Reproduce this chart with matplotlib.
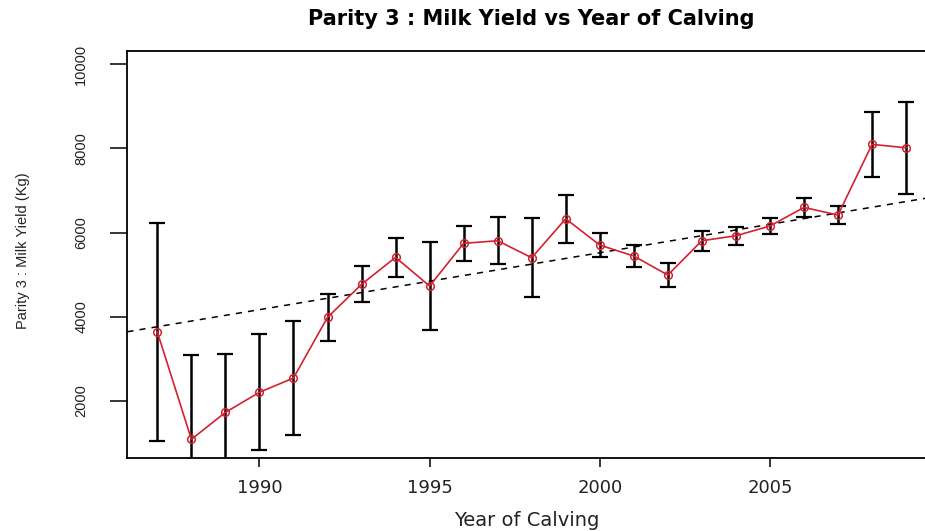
import matplotlib
matplotlib.use("Agg")
import matplotlib.pyplot as plt
import numpy as np

years = [1987, 1988, 1989, 1990, 1991, 1992, 1993, 1994, 1995, 1996, 1997, 1998,
         1999, 2000, 2001, 2002, 2003, 2004, 2005, 2006, 2007, 2008, 2009]
mean_yield = [3640, 1090, 1730, 2207, 2546, 3988, 4772, 5413, 4732, 5746, 5808, 5404,
              6330, 5705, 5444, 4993, 5808, 5926, 6157, 6600, 6418, 8097, 8017]
err_yield = [2580, 2000, 1384, 1377, 1361, 556, 430, 455, 1050, 410, 560, 940,
             565, 285, 257, 278, 238, 217, 200, 217, 220, 772, 1087]
trend_year0 = 1986.12
trend_value0 = 3646
trend_slope = 135.2
xticks = [1990, 1995, 2000, 2005]
yticks = [2000, 4000, 6000, 8000, 10000]

W, H = 925, 531
fig = plt.figure(figsize=(W / 100, H / 100), dpi=100)
L, R, T, B = 127.4, 936.0, 50.7, 458.3
ax = fig.add_axes([L / W, (H - B) / H, (R - L) / W, (B - T) / H])

ax.errorbar(years, mean_yield, yerr=err_yield, fmt='none', ecolor='black',
            elinewidth=1.8, capsize=6.1, capthick=1.6, zorder=2)
ax.plot(years, mean_yield, color='#d42030', lw=1.2, marker='o', ms=5.5,
        mfc='none', mec='#d42030', mew=1.1, zorder=3)
ax.axline((trend_year0, trend_value0), slope=trend_slope, color='black',
          lw=1.1, linestyle=(0, (4, 4)), zorder=2)

ax.set_xlim(1986.12, 2009.88)
ax.set_ylim(639, 10323)
ax.set_xticks(xticks)
ax.set_yticks(yticks)
ax.set_xticklabels([str(v) for v in xticks], fontsize=13, family='DejaVu Sans',
                   color='#222222')
ax.set_yticklabels([str(v) for v in yticks], fontsize=10.5, family='Liberation Sans',
                   rotation=90, va='center', color='#222222')
ax.tick_params(axis='x', length=6.5, width=1.1, pad=8.5, direction='out')
ax.tick_params(axis='y', length=12.2, width=1.1, pad=16, direction='out')
for s in ax.spines.values():
    s.set_linewidth(1.3)
    s.set_color('black')

fig.text(531.5 / W, 1 - 19 / H, 'Parity 3 : Milk Yield vs Year of Calving',
         ha='center', va='center', fontsize=15, fontweight='bold',
         family='DejaVu Sans')
fig.text(527 / W, 1 - 520 / H, 'Year of Calving', ha='center', va='center',
         fontsize=14, family='DejaVu Sans', color='#222222')
fig.text(23 / W, 1 - 251 / H, 'Parity 3 : Milk Yield (Kg)', ha='center',
         va='center', rotation=90, fontsize=10.5, family='Liberation Sans',
         color='#222222')

fig.savefig('out.png', dpi=100)
